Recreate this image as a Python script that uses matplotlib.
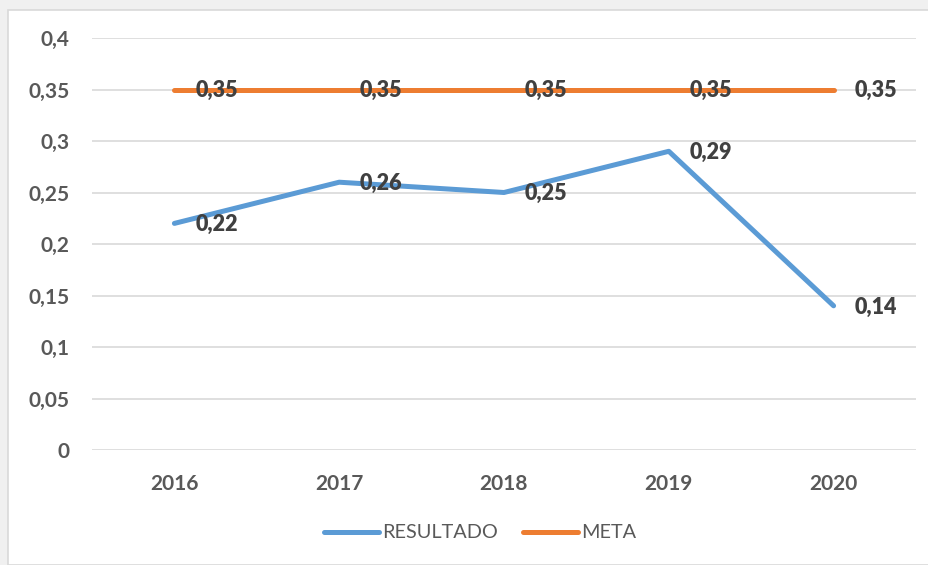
import matplotlib.pyplot as plt
from matplotlib.patches import Rectangle

years = ["2016", "2017", "2018", "2019", "2020"]
resultado = [0.22, 0.26, 0.25, 0.29, 0.14]
meta = [0.35, 0.35, 0.35, 0.35, 0.35]
yticks = [0, 0.05, 0.1, 0.15, 0.2, 0.25, 0.3, 0.35, 0.4]

plt.rcParams['font.family'] = ['Lato', 'DejaVu Sans']

fig = plt.figure(figsize=(9.29, 5.65), dpi=100)
fig.patch.set_facecolor('#f0f0f0')
fig.patches.append(Rectangle((8 / 929, 0), 1, 1 - 10 / 565, transform=fig.transFigure,
                             facecolor='white', edgecolor='#d9d9d9', linewidth=1.2, zorder=-10))

ax = fig.add_axes([92 / 929, 1 - 450 / 565, 824 / 929, 412 / 565])
ax.set_facecolor('none')
x = range(len(years))

def fmt(v):
    return ("%g" % v).replace('.', ',')

ax.plot(x, resultado, color='#5B9BD5', lw=3.6, solid_capstyle='round', label='RESULTADO', zorder=3)
ax.plot(x, meta, color='#ED7D31', lw=3.6, solid_capstyle='round', label='META', zorder=3)

# rótulos de dados à direita de cada ponto
for xs, ys in [(x, resultado), (x, meta)]:
    for xi, yi in zip(xs, ys):
        ax.annotate(fmt(yi), (xi, yi), xytext=(15, -1), textcoords='offset points',
                    ha='left', va='center', fontsize=15.5, fontweight='heavy', color='#404040', zorder=4)

ax.set_xlim(-0.5, len(years) - 0.5)
ax.set_ylim(0, 0.4)
ax.set_yticks(yticks)
ax.set_yticklabels([fmt(v) for v in yticks])
ax.set_xticks(list(x))
ax.set_xticklabels(years)
ax.grid(axis='y', color='#d9d9d9', lw=1.2)
ax.set_axisbelow(True)
for s in ax.spines.values():
    s.set_visible(False)
ax.tick_params(length=0, labelsize=15, labelcolor='#595959')
for lab in ax.get_xticklabels() + ax.get_yticklabels():
    lab.set_fontweight('bold')
ax.tick_params(axis='y', pad=16)
ax.tick_params(axis='x', pad=17)

leg = fig.legend(loc='center', bbox_to_anchor=(480 / 929, 1 - 533 / 565), ncol=2, frameon=False,
                 fontsize=14.3, handlelength=2.8, handletextpad=0.15, columnspacing=1.25)
for t in leg.get_texts():
    t.set_color('#595959')

fig.savefig('out.png', dpi=100, facecolor=fig.get_facecolor())
